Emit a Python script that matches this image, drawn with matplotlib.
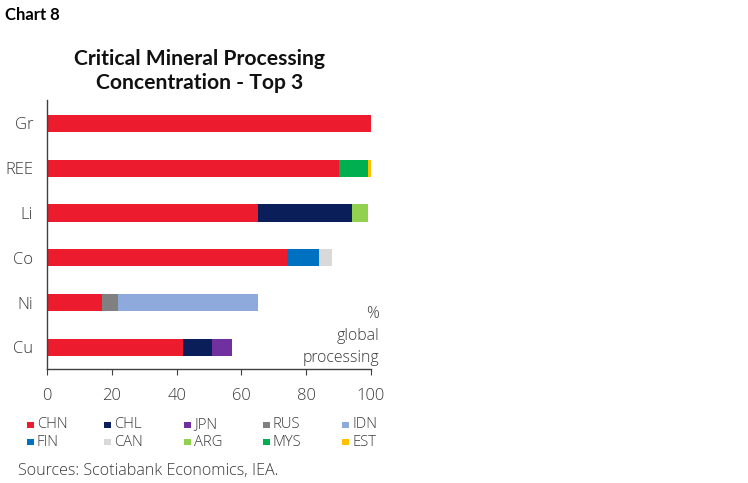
import matplotlib
matplotlib.use("Agg")
import matplotlib.pyplot as plt
from matplotlib.patches import Rectangle
import numpy as np

minerals = ["Gr", "REE", "Li", "Co", "Ni", "Cu"]
countries = ["CHN", "CHL", "JPN", "RUS", "IDN", "FIN", "CAN", "ARG", "MYS", "EST"]
# values per country, aligned with minerals (Gr, REE, Li, Co, Ni, Cu)
CHN = [100, 90, 65, 74, 17, 42]
CHL = [0, 0, 29, 0, 0, 9]
JPN = [0, 0, 0, 0, 0, 6]
RUS = [0, 0, 0, 0, 5, 0]
IDN = [0, 0, 0, 0, 43, 0]
FIN = [0, 0, 0, 10, 0, 0]
CAN = [0, 0, 0, 4, 0, 0]
ARG = [0, 0, 5, 0, 0, 0]
MYS = [0, 9, 0, 0, 0, 0]
EST = [0, 1, 0, 0, 0, 0]
series = [CHN, CHL, JPN, RUS, IDN, FIN, CAN, ARG, MYS, EST]
colors = ["#EC1C2E", "#0A1E5A", "#7030A0", "#808080", "#8EA9DB",
          "#0070C0", "#D9D9D9", "#92D050", "#00B050", "#FFC000"]
xticks = [0, 20, 40, 60, 80, 100]

body = ["Open Sans", "DejaVu Sans"]
plt.rcParams["font.family"] = body
plt.rcParams["font.weight"] = "light"
txtc = "#3a3a3a"

fig = plt.figure(figsize=(7.48, 4.83), dpi=100)
ax = fig.add_axes([47/748, 1 - 369/483, (371-47)/748, (369-100)/483])

ypos = np.arange(len(minerals))[::-1]
left = np.zeros(len(minerals))
for vals, c, name in zip(series, colors, countries):
    v = np.array(vals, dtype=float)
    ax.barh(ypos, v, left=left, height=0.385, color=c, label=name)
    left += v

ax.set_xlim(0, 100)
ax.set_ylim(-0.48, 5.52)
ax.set_yticks(ypos)
ax.set_yticklabels(minerals)
ax.set_xticks(xticks)
ax.set_xticklabels([str(t) for t in xticks])
for s in ["top", "right"]:
    ax.spines[s].set_visible(False)
for s in ["left", "bottom"]:
    ax.spines[s].set_color("#404040")
    ax.spines[s].set_linewidth(1.0)
ax.tick_params(axis="y", length=0, pad=10, labelsize=12, labelcolor=txtc)
ax.tick_params(axis="x", length=4, width=0.8, color="#404040", pad=9.5,
               labelsize=12, labelcolor=txtc)

for t, yy in zip(["%", "global", "processing"], [314, 336, 358]):
    fig.text(379/748, 1 - yy/483, t, ha="right", va="center", fontsize=11.4, color=txtc)

fig.text(5/748, 1 - 15/483, "Chart 8", ha="left", va="center", fontsize=12,
         fontweight="bold", color="#000000", family=["Lato", "DejaVu Sans"])
fig.text(200/748, 1 - 71/483, "Critical Mineral Processing\nConcentration - Top 3",
         ha="center", va="center", fontsize=15.2, fontweight="bold", color="#111111",
         linespacing=1.2, family=["Lato", "DejaVu Sans"])

# legend
col_x = [27, 104, 184, 263, 342]
row_y = [425, 442]
for i, (name, c) in enumerate(zip(countries, colors)):
    r, k = divmod(i, 5)
    x = col_x[k]
    y = row_y[r]
    fig.add_artist(Rectangle((x/748, 1 - (y + 3.2)/483), 6.5/748, 6.5/483,
                             transform=fig.transFigure, color=c, lw=0))
    fig.text((x + 10)/748, 1 - y/483, name, ha="left", va="center",
             fontsize=10.7, color=txtc)

fig.text(18/748, 1 - 471/483, "Sources: Scotiabank Economics, IEA.", ha="left",
         va="center", fontsize=11.6, color=txtc)

fig.savefig("out.png", dpi=100)
